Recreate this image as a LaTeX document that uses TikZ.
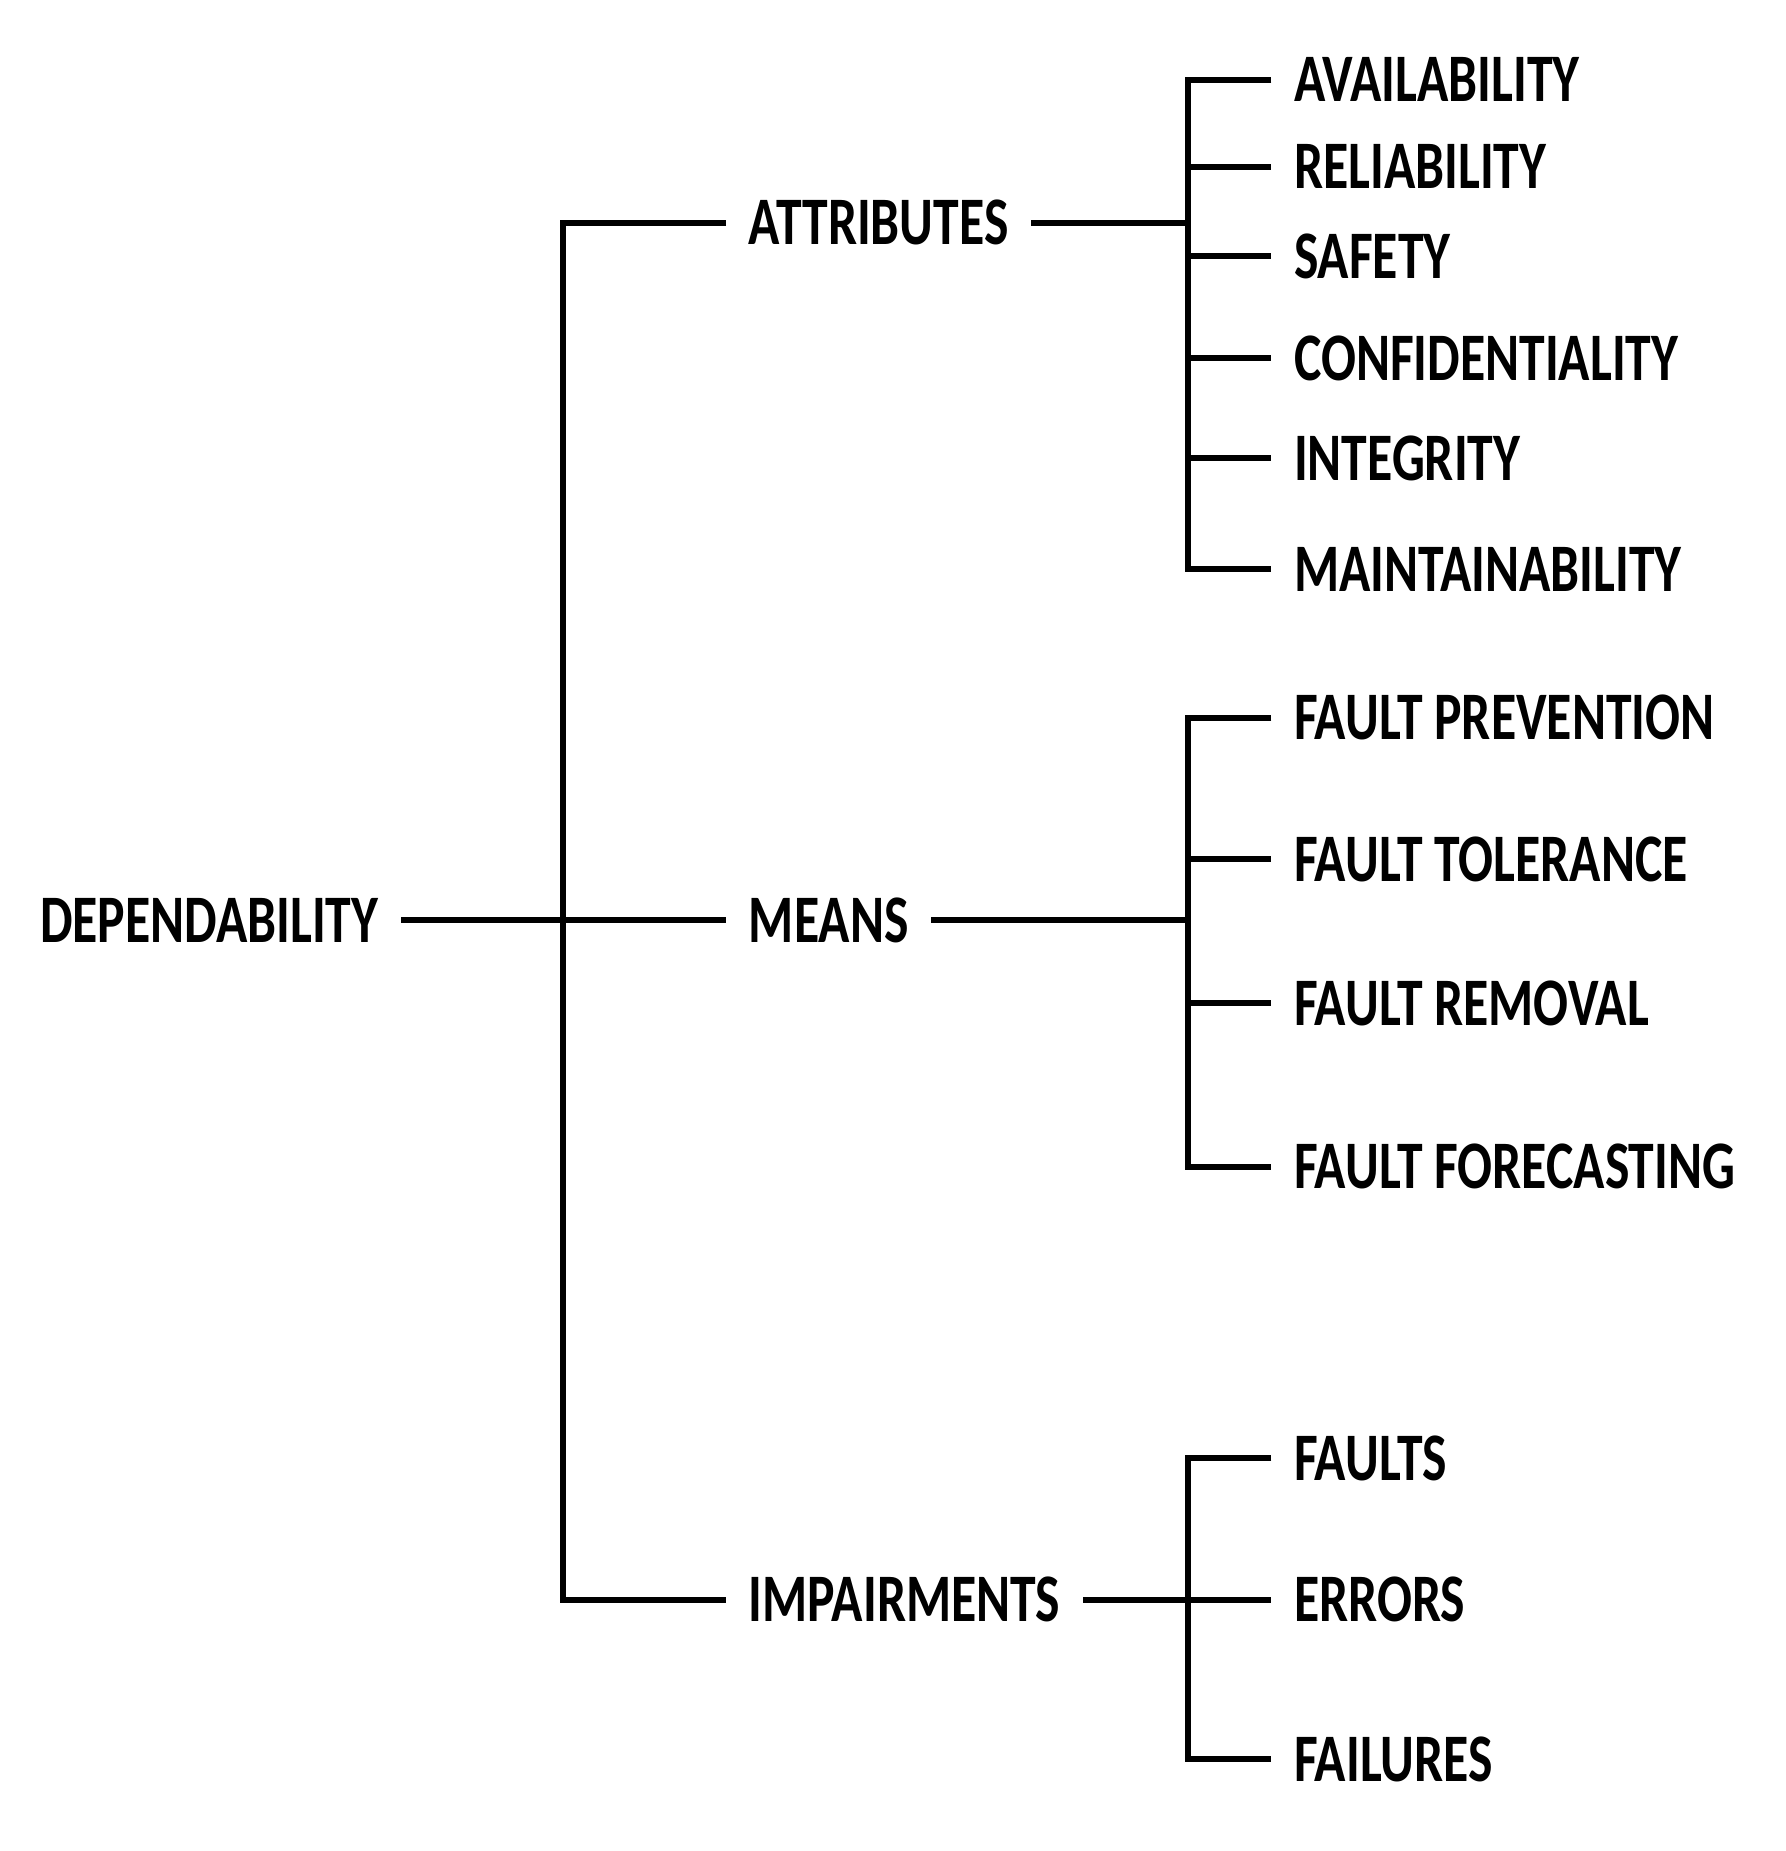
\documentclass[tikz,border=0pt]{standalone}
\usepackage{fontspec}
\newfontfamily\treefont{Carlito}[FakeStretch=0.76]
\tikzset{
  term/.style={font=\treefont\bfseries\fontsize{17}{20}\selectfont, inner xsep=5.5pt, inner ysep=1pt},
  branch/.style={line width=1.5pt}
}
\begin{document}
\begin{tikzpicture}[x=0.2975pt,y=-0.2975pt]
\useasboundingbox (0,0) rectangle (1500,1555);
\node[term,anchor=east] (dep) at (337,773) {DEPENDABILITY};
\node[term,anchor=west] (att) at (610,187) {ATTRIBUTES};
\node[term,anchor=west] (mean) at (610,773) {MEANS};
\node[term,anchor=west] (imp) at (610,1344) {IMPAIRMENTS};

\coordinate (mj) at (473,773);
\coordinate (aj) at (998,187);
\coordinate (mnj) at (998,773);
\coordinate (ij) at (998,1344);

\foreach \y/\t/\n in {67/AVAILABILITY/av,140/RELIABILITY/re,215/SAFETY/sa,
  301/CONFIDENTIALITY/co,385/INTEGRITY/in,478/MAINTAINABILITY/ma,
  603/FAULT PREVENTION/fp,722/FAULT TOLERANCE/ft,843/FAULT REMOVAL/fr,
  980/FAULT FORECASTING/ff,1225/FAULTS/fa,1344/ERRORS/er,1478/FAILURES/fl}
 \node[term,anchor=west] (\n) at (1068,\y) {\t};

\draw[branch] (dep.east) -- (mean.west);
\draw[branch] (att.west) -| (mj) |- (imp.west);

\draw[branch] (att.east) -- (aj);
\draw[branch] (av.west) -| (aj) |- (ma.west);
\foreach \n in {re,sa,co,in}
 \draw[branch] (aj |- \n.west) -- (\n.west);

\draw[branch] (mean.east) -- (mnj);
\draw[branch] (fp.west) -| (mnj) |- (ff.west);
\foreach \n in {ft,fr}
 \draw[branch] (mnj |- \n.west) -- (\n.west);

\draw[branch] (imp.east) -- (er.west);
\draw[branch] (fa.west) -| (ij) |- (fl.west);
\end{tikzpicture}
\end{document}
